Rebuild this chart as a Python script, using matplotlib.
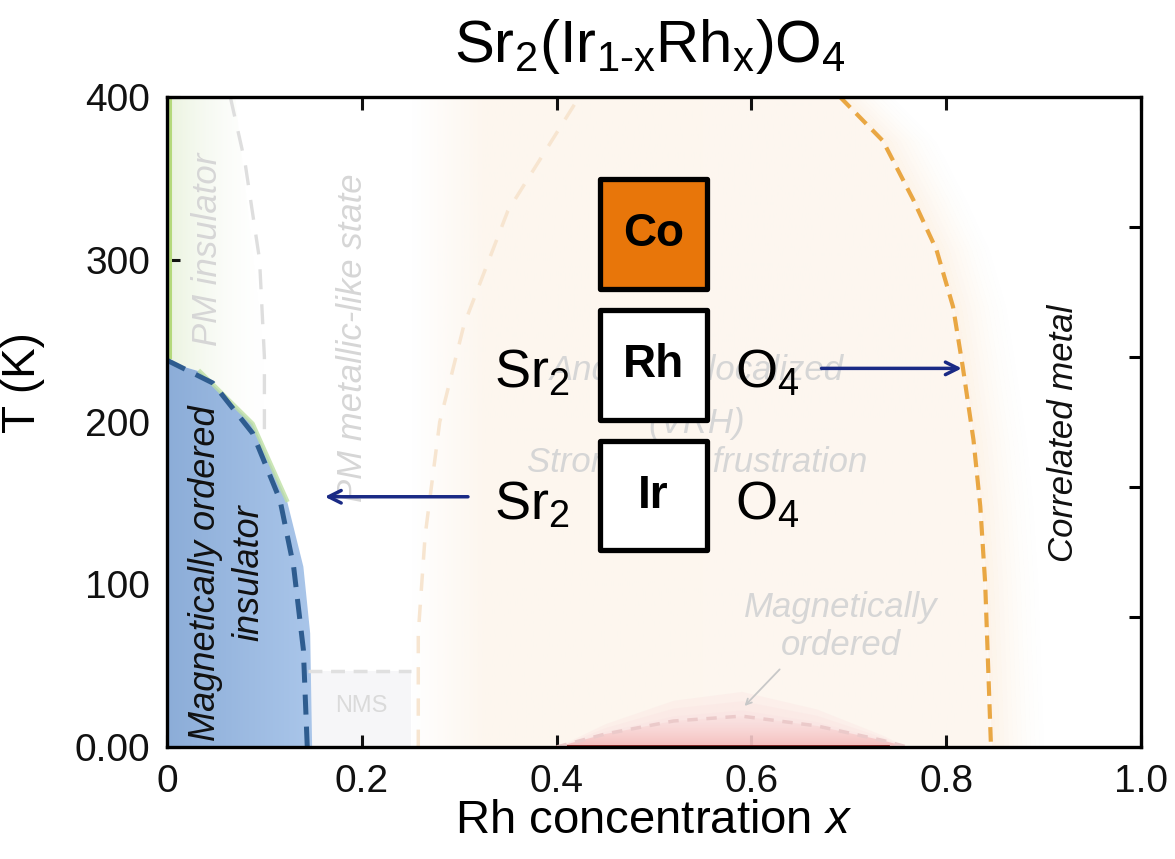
import numpy as np
import matplotlib
matplotlib.use('Agg')
import matplotlib.pyplot as plt
from matplotlib.colors import to_rgb
from matplotlib.patches import Polygon, Rectangle

plt.rcParams['font.family'] = ['Liberation Sans', 'DejaVu Sans']
plt.rcParams['mathtext.fontset'] = 'custom'
plt.rcParams['mathtext.rm'] = 'Liberation Sans'
plt.rcParams['mathtext.it'] = 'Liberation Sans:italic'
plt.rcParams['mathtext.bf'] = 'Liberation Sans:bold'
plt.rcParams['mathtext.default'] = 'regular'

# phase boundaries: x = Rh fraction, T in K
# magnetically ordered insulator (filled edge and dashed T_N line)
afm_x = [0.0, 0.034, 0.088, 0.123, 0.140, 0.147, 0.149]
afm_T = [237, 231, 199, 152, 111, 70, 0]
afm_dash_x = [0.0, 0.047, 0.088, 0.116, 0.130, 0.140, 0.144]
afm_dash_T = [238, 224, 193, 152, 111, 60, 0]
# PM insulator / PM metallic-like crossover
pmi_x = [0.065, 0.080, 0.095, 0.100, 0.100]
pmi_T = [400, 360, 300, 240, 195]
# Anderson localized region, faint left edge and correlated-metal edge
loc_x = [0.258, 0.258, 0.265, 0.280, 0.305, 0.350, 0.420]
loc_T = [0, 70, 130, 200, 260, 330, 397]
cm_x = [0.691, 0.735, 0.766, 0.790, 0.807, 0.817, 0.828, 0.835, 0.840, 0.846]
cm_T = [400, 373, 337, 306, 271, 234, 189, 148, 101, 0]
# NMS line
nms_x = [0.145, 0.25]
nms_T = [47, 47]
# magnetically ordered dome at high x
dome_x = [0.40, 0.45, 0.52, 0.59, 0.667, 0.735, 0.76]
dome_T = [0, 8, 16, 19, 13, 4, 0]

xticks = [0, 0.2, 0.4, 0.6, 0.8, 1.0]
xtick_labels = ['0', '0.2', '0.4', '0.6', '0.8', '1.0']
yticks = [0, 100, 200, 300, 400]
ytick_labels = ['0.00', '100', '200', '300', '400']
right_ticks = [80, 160, 240, 320]

site_labels = ['Co', 'Rh', 'Ir']
site_colors = ['#e8760a', 'white', 'white']

faint = '#d6d6d6'


def shade(ax, verts, c0, c1, alpha, extent, vertical=False, z=1):
    # gradient image clipped to a polygon
    t = np.linspace(0, 1, 256)
    c0 = np.array(to_rgb(c0))
    c1 = np.array(to_rgb(c1))
    rgba = np.zeros((256, 4))
    rgba[:, :3] = c0 + (c1 - c0) * t[:, None]
    rgba[:, 3] = alpha(t)
    img = rgba[:, None, :] if vertical else rgba[None, :, :]
    im = ax.imshow(img, extent=extent, origin='lower', aspect='auto',
                   interpolation='bilinear', zorder=z)
    clip = Polygon(verts, closed=True, fc='none', ec='none')
    ax.add_patch(clip)
    im.set_clip_path(clip)
    return im


fig = plt.figure(figsize=(11.75, 8.59), dpi=100)
ax = fig.add_axes([167 / 1175, 1 - 747 / 859, 974 / 1175, 650 / 859])

# cream (Anderson localized) region
cream = [(0.25, 0), (0.25, 400)] + list(zip(cm_x, cm_T))
shade(ax, cream, '#fdf6ee', '#fdf7f0',
      lambda t: np.clip(t / 0.12, 0, 1) * 0.95, (0.25, 0.85, 0, 400))

# orange glow right of the correlated metal boundary
cmx = np.array(cm_x)
for k in range(12):
    ax.fill_betweenx(cm_T, cmx + 0.0045 * k, cmx + 0.0045 * (k + 1),
                     color='#fbe3c8', alpha=0.4 * (1 - k / 12) ** 1.6, lw=0, zorder=1)

# PM insulator greenish tint
green = [(0, 237), (0, 400), (0.07, 400), (0.1, 240), (0.1, 195), (0.088, 199), (0.034, 231)]
shade(ax, green, '#e3efd4', '#f5f9f0', lambda t: 0.75 * (1 - t) ** 1.2, (0, 0.1, 0, 400))
ax.plot([0.003, 0.003], [240, 400], color='#b4d97c', lw=2.2, zorder=2)

# magnetically ordered insulator
blue = list(zip(afm_x, afm_T)) + [(0, 0)]
shade(ax, blue, '#8cadd8', '#aac6ea', lambda t: np.ones_like(t), (0, 0.15, 0, 240), z=2)
ax.plot(afm_x[1:4], afm_T[1:4], color='#bfe0a4', lw=3, alpha=0.8, zorder=2)

# NMS pocket
ax.fill_between(nms_x, 0, nms_T, color='#f6f6f8', lw=0, zorder=1)

# dome
dome = list(zip(dome_x, dome_T))
for s in [1.8, 1.5, 1.2]:
    ax.fill_between(dome_x, 0, np.array(dome_T) * s, color='#fae0e0', alpha=0.3, lw=0, zorder=2)
shade(ax, dome, '#f3b6b6', '#fbe4e4', lambda t: 0.85 - 0.4 * t, (0.4, 0.76, 0, 20), vertical=True, z=2)
ax.plot([0.4, 0.74], [0.6, 0.6], color='#8a1c1c', lw=2, zorder=3)

# boundary lines
ax.plot(pmi_x, pmi_T, color='#dedede', lw=2.4, dashes=(6, 4.5), zorder=3)
ax.plot(loc_x, loc_T, color='#f7e5d0', lw=2.5, dashes=(5, 4), zorder=3)
ax.plot(nms_x, nms_T, color='#e0e0e0', lw=2.5, dashes=(4, 2.5), zorder=3)
ax.plot(dome_x, dome_T, color='#ebcaca', lw=2.5, dashes=(3, 2.5), zorder=3)
ax.plot(cm_x, cm_T, color='#e9a743', lw=3, dashes=(3.5, 2), zorder=3)
ax.plot(afm_dash_x, afm_dash_T, color='#2e5c8f', lw=3.6, dashes=(4, 2.4), zorder=3)

# faint region labels
kw = dict(color=faint, fontsize=25, style='italic', ha='center', va='center', zorder=3)
ax.text(0.042, 306, 'PM insulator', rotation=90, **kw)
ax.text(0.19, 252, 'PM metallic-like state', rotation=90, **kw)
ax.text(0.544, 232, 'Anderson localized', **kw)
ax.text(0.544, 199, '(VRH)', **kw)
ax.text(0.544, 175, 'Strong spin frustration', **kw)
ax.text(0.692, 74, 'Magnetically\nordered', linespacing=1.2, **kw)
ax.annotate('', xy=(0.591, 24), xytext=(0.631, 49),
            arrowprops=dict(arrowstyle='->', color='#c8c8c8', lw=1.3), zorder=3)
ax.text(0.2, 25, 'NMS', color='#dadada', fontsize=17, ha='center', va='center', zorder=3)

# dark labels
ax.text(0.062, 107, 'Magnetically ordered\ninsulator', rotation=90, fontsize=26,
        style='italic', ha='center', va='center', linespacing=1.3, color='#111111', zorder=4)
ax.text(0.92, 193, 'Correlated metal', rotation=90, fontsize=25, style='italic',
        ha='center', va='center', color='#111111', zorder=4)

# B-site boxes
box_x0, box_x1 = 0.4446, 0.5544
box_rows = [(281.8, 349.5), (201.2, 268.9), (121.2, 188.3)]
for lab, fc, (t0, t1) in zip(site_labels, site_colors, box_rows):
    ax.add_patch(Rectangle((box_x0, t0), box_x1 - box_x0, t1 - t0, fc=fc, ec='black',
                           lw=3.8, joinstyle='round', zorder=5))
    ax.text((box_x0 + box_x1) / 2, (t0 + t1) / 2, lab, fontsize=33, fontweight='bold',
            ha='center', va='center', zorder=6)

for base in [221, 140]:
    ax.text(0.414, base, r'Sr$_2$', fontsize=39, ha='right', va='baseline', zorder=6)
    ax.text(0.583, base, r'O$_4$', fontsize=39, ha='left', va='baseline', zorder=6)

arrow = dict(arrowstyle='->,head_length=0.9,head_width=0.45', color='#1a2a85', lw=2.5,
             shrinkA=0, shrinkB=0)
ax.annotate('', xy=(0.816, 233), xytext=(0.672, 233), arrowprops=arrow, zorder=6)
ax.annotate('', xy=(0.162, 154), xytext=(0.309, 154), arrowprops=arrow, zorder=6)

# axes
ax.set_xlim(0, 1)
ax.set_ylim(0, 400)
ax.set_xticks(xticks)
ax.set_xticklabels(xtick_labels)
ax.set_yticks(yticks)
ax.set_yticklabels(ytick_labels)
ax.tick_params(direction='in', length=9, width=2.2, labelsize=28, pad=12,
               top=True, right=False, colors='#111111')
for sp in ax.spines.values():
    sp.set_linewidth(2.4)
    sp.set_zorder(7)

axr = ax.twinx()
axr.set_ylim(0, 400)
axr.set_yticks(right_ticks)
axr.tick_params(direction='in', length=9, width=2.2, labelright=False)
for sp in axr.spines.values():
    sp.set_visible(False)

ax.set_xlabel(r'Rh concentration $\mathit{x}$', fontsize=34)
ax.xaxis.set_label_coords(0.5, -0.08)
ax.set_ylabel('T (K)', fontsize=33)
ax.yaxis.set_label_coords(-0.125, 0.56)

fig.text(0.553, 0.928, r'Sr$_2$(Ir$_{1\text{-}x}$Rh$_x$)O$_4$', fontsize=43,
         ha='center', va='baseline')

fig.savefig('out.png', dpi=100)
